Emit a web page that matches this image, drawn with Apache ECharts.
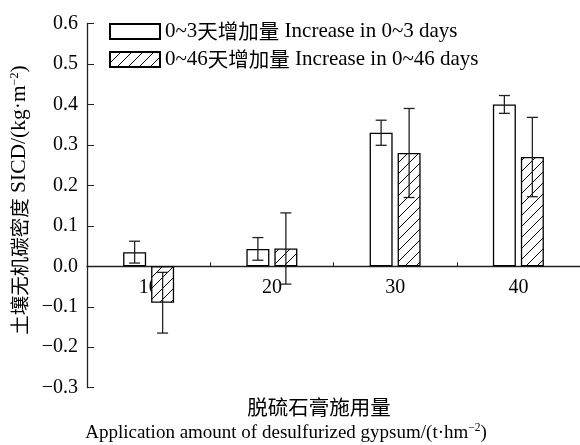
<!DOCTYPE html>
<html>
<head>
<meta charset="utf-8">
<script src="https://cdn.jsdelivr.net/npm/echarts@6/dist/echarts.min.js"></script>
<style>html,body{margin:0;padding:0;background:#fff;}#c{width:580px;height:445px;}</style>
</head>
<body>
<div id="c"></div>
<script>
const categories = ['10', '20', '30', '40'];
const seriesNames = ['0~3天增加量 Increase in 0~3 days', '0~46天增加量 Increase in 0~46 days'];
const legendNum = ['0~3', '0~46'];
const legendCn = ['天增加量', '天增加量'];
const legendEn = ['Increase in 0~3 days', 'Increase in 0~46 days'];
const increase3 = [0.035, 0.043, 0.330, 0.400];
const increase3Err = [0.027, 0.028, 0.031, 0.022];
const increase46 = [-0.090, 0.044, 0.280, 0.270];
const increase46Err = [0.075, 0.088, 0.110, 0.098];
const yTicks = { min: -0.3, max: 0.6, interval: 0.1 };
const yNameCn = '土壤无机碳密度';
const yNameEn = 'SICD/(kg·m';
const xNameCn = '脱硫石膏施用量';
const xNameEn = 'Application amount of desulfurized gypsum/(t·hm';

const SERIF = "'Liberation Serif', 'Times New Roman', serif";
const CJK = "'Noto Sans CJK SC', sans-serif";

function hatch() {
  const s = 11;
  const c = document.createElement('canvas');
  c.width = s; c.height = s;
  const g = c.getContext('2d');
  g.fillStyle = '#fff'; g.fillRect(0, 0, s, s);
  g.strokeStyle = '#000'; g.lineWidth = 1;
  g.beginPath();
  g.moveTo(-1, s + 1); g.lineTo(s + 1, -1);
  g.moveTo(-1, 1); g.lineTo(1, -1);
  g.moveTo(s - 1, s + 1); g.lineTo(s + 1, s - 1);
  g.stroke();
  return c;
}

const BAR_W = 23, GAP = 5;
const OFF = (BAR_W + GAP) / 2;
const GRID = { left: 87, right: -7, top: 23.5, bottom: 57.3 };
const gridH = 445 - GRID.top - GRID.bottom;
const zeroOffset = gridH * (0 - yTicks.min) / (yTicks.max - yTicks.min);

function errSeries(vals, errs, off) {
  return {
    type: 'custom',
    z: 5,
    silent: true,
    data: vals.map((v, i) => [i, v, errs[i]]),
    renderItem: function (params, api) {
      const i = api.value(0), v = api.value(1), e = api.value(2);
      const hi = api.coord([i, v + e]);
      const lo = api.coord([i, v - e]);
      const x = hi[0] + off;
      const cw = 5.5;
      const st = { stroke: '#222', lineWidth: 1.3 };
      return {
        type: 'group',
        children: [
          { type: 'line', shape: { x1: x, y1: hi[1], x2: x, y2: lo[1] }, style: st },
          { type: 'line', shape: { x1: x - cw, y1: hi[1], x2: x + cw, y2: hi[1] }, style: st },
          { type: 'line', shape: { x1: x - cw, y1: lo[1], x2: x + cw, y2: lo[1] }, style: st }
        ]
      };
    }
  };
}

const chart = echarts.init(document.getElementById('c'), null, { renderer: 'canvas' });
chart.setOption({
  animation: false,
  backgroundColor: '#fff',
  grid: GRID,
  legend: {
    orient: 'vertical',
    left: 104, top: 16,
    itemWidth: 50, itemHeight: 15, itemGap: 7,
    icon: 'rect',
    selectedMode: false,
    data: seriesNames,
    formatter: function (name) {
      const k = seriesNames.indexOf(name);
      return '{en|' + legendNum[k] + '}{cn|' + legendCn[k] + '}{en| ' + legendEn[k] + '}';
    },
    textStyle: { color: '#000', rich: {
      cn: { fontFamily: CJK, fontSize: 20.5, color: '#000', lineHeight: 22 },
      en: { fontFamily: SERIF, fontSize: 21, color: '#000', lineHeight: 22 }
    } }
  },
  xAxis: {
    type: 'category',
    data: categories,
    offset: -zeroOffset,
    axisLine: { onZero: false, lineStyle: { color: '#222', width: 1.3 } },
    axisTick: { show: true, inside: true, length: 4, lineStyle: { color: '#222' } },
    axisLabel: { margin: 11, fontFamily: SERIF, fontSize: 20, color: '#000' },
    splitLine: { show: false }
  },
  yAxis: {
    type: 'value',
    min: yTicks.min, max: yTicks.max, interval: yTicks.interval,
    name: '{cn|' + yNameCn + '}{en| ' + yNameEn + '}{sup|−2}{en|)}',
    nameLocation: 'middle',
    nameRotate: 90,
    nameGap: 54,
    nameTextStyle: { padding: [0, 0, 0, 11], rich: {
      cn: { fontFamily: CJK, fontSize: 19.5, color: '#000', lineHeight: 22 },
      en: { fontFamily: SERIF, fontSize: 21.5, color: '#000', lineHeight: 22 },
      sup: { fontFamily: SERIF, fontSize: 12, color: '#000', verticalAlign: 'top', lineHeight: 22 }
    } },
    axisLine: { show: true, onZero: false, lineStyle: { color: '#222', width: 1.3 } },
    axisTick: { show: true, inside: true, length: 7, lineStyle: { color: '#222' } },
    axisLabel: {
      margin: 9, fontFamily: SERIF, fontSize: 20, color: '#000',
      formatter: v => v.toFixed(1).replace('-', '−')
    },
    splitLine: { show: false }
  },
  graphic: [
    { type: 'text', x: 319, y: 407, style: { text: xNameCn, align: 'center', verticalAlign: 'middle', font: "20.5px " + CJK, fill: '#000' } },
    { type: 'text', x: 286, y: 433, style: {
      text: '{en|' + xNameEn + '}{sup|−2}{en|)}', align: 'center', verticalAlign: 'middle',
      rich: {
        en: { fontFamily: SERIF, fontSize: 19, fill: '#000', lineHeight: 22 },
        sup: { fontFamily: SERIF, fontSize: 11.5, fill: '#000', verticalAlign: 'top', lineHeight: 22 }
      }
    } }
  ],
  series: [
    {
      name: seriesNames[0], type: 'bar', data: increase3,
      barWidth: BAR_W, barGap: (GAP / BAR_W * 100).toFixed(1) + '%',
      itemStyle: { color: '#fff', borderColor: '#000', borderWidth: 1.3 }
    },
    {
      name: seriesNames[1], type: 'bar', data: increase46,
      barWidth: BAR_W,
      itemStyle: { color: { image: hatch(), repeat: 'repeat' }, borderColor: '#000', borderWidth: 1.3 }
    },
    errSeries(increase3, increase3Err, -OFF),
    errSeries(increase46, increase46Err, OFF)
  ]
});
</script>
</body>
</html>
